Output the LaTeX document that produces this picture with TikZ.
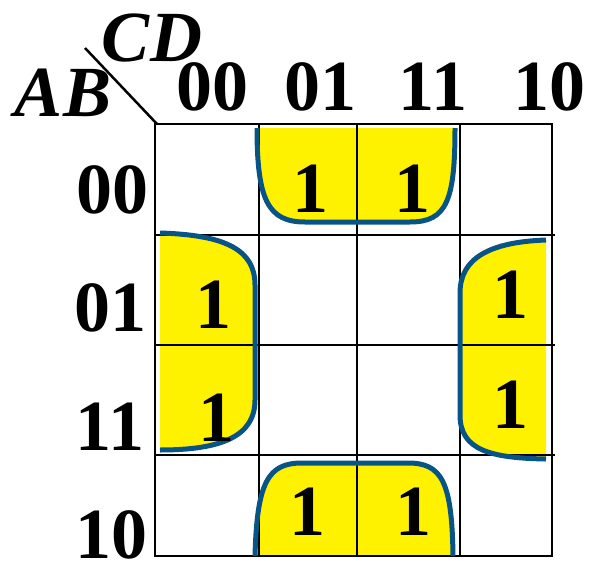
\documentclass[tikz,border=0pt]{standalone}
\usepackage{fontspec}
\setmainfont{Liberation Serif}
\usepackage{tikz}
\usepackage{xcolor}
\definecolor{kblue}{RGB}{8,84,134}
\tikzset{
  lbl/.style={font=\fontsize{72}{72}\selectfont\bfseries, inner sep=0pt},
  var/.style={font=\fontsize{72}{72}\selectfont\bfseries\itshape, inner sep=0pt},
  one/.style={font=\fontsize{72}{72}\selectfont\bfseries, inner sep=0pt},
  loopline/.style={kblue, line width=5pt},
  cell/.style={black, line width=2.5pt}
}

\begin{document}
\begin{tikzpicture}[x=1pt,y=-1pt]
\useasboundingbox (0,0) rectangle (589,570);
\fill[yellow] (257,128) .. controls (257,200) and (268,222) .. (305,222) -- (410,222) .. controls (447,222) and (455,200) .. (455,128) -- cycle;
\fill[yellow] (255,556) .. controls (257,482) and (268,463) .. (302,463) -- (408,463) .. controls (442,463) and (452,482) .. (453,556) -- cycle;
\fill[yellow] (160,233) .. controls (226,235) and (255,250) .. (255,285) -- (255,400) .. controls (255,436) and (222,450) .. (160,450) -- cycle;
\fill[yellow] (546,240) .. controls (490,242) and (460,258) .. (460,293) -- (460,415) .. controls (460,450) and (490,458) .. (546,459) -- cycle;
\draw[cell] (155,124) rectangle (552,556);
\draw[cell] (259,124) -- (259,556);
\draw[cell] (357,124) -- (357,556);
\draw[cell] (460,124) -- (460,556);
\draw[cell] (155,235) -- (555,235);
\draw[cell] (155,345) -- (555,345);
\draw[cell] (155,455) -- (555,455);
\draw[cell] (85,48) -- (157,124);
\draw[loopline] (257,128) .. controls (257,200) and (268,222) .. (305,222) -- (410,222) .. controls (447,222) and (455,200) .. (455,128);
\draw[loopline] (255,556) .. controls (257,482) and (268,463) .. (302,463) -- (408,463) .. controls (442,463) and (452,482) .. (453,556);
\draw[loopline] (160,233) .. controls (226,235) and (255,250) .. (255,285) -- (255,400) .. controls (255,436) and (222,450) .. (160,450);
\draw[loopline] (546,240) .. controls (490,242) and (460,258) .. (460,293) -- (460,415) .. controls (460,450) and (490,458) .. (546,459);
\node[var] (cd) at (152,38) {CD};
\node[var] (ab) at (63,93) {AB};
\node[lbl] (c00) at (212,87) {00};
\node[lbl] (c01) at (320,87) {01};
\node[lbl] (c11) at (433,87) {11};
\node[lbl] (c10) at (549,87) {10};
\node[lbl] (r00) at (112,190) {00};
\node[lbl] (r01) at (110,308) {01};
\node[lbl] (r11) at (110,427) {11};
\node[lbl] (r10) at (111,535) {10};
\node[one] (m1) at (310,189) {1};
\node[one] (m3) at (412,189) {1};
\node[one] (m4) at (213,305) {1};
\node[one] (m12) at (216,418) {1};
\node[one] (m6) at (510,295) {1};
\node[one] (m14) at (510,405) {1};
\node[one] (m9) at (307,512) {1};
\node[one] (m11) at (413,512) {1};
\end{tikzpicture}
\end{document}
